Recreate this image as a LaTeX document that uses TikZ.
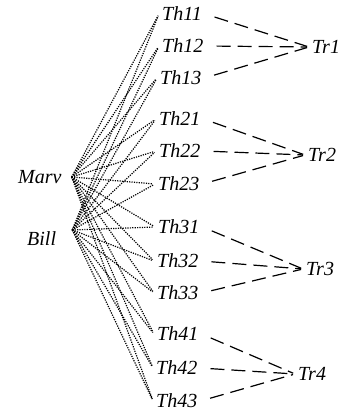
\documentclass[tikz,border=0pt]{standalone}
\usepackage{fontspec}
\setmainfont{Liberation Serif}
\begin{document}
\begin{tikzpicture}[x=1pt, y=-1pt,
  lbl/.style={font=\fontsize{20}{24}\selectfont\itshape, inner sep=3pt, anchor=west},
  link/.style={line width=1.2pt, dash pattern=on 1.2pt off 1.2pt, shorten >=2pt},
  tie/.style={line width=1.2pt, dash pattern=on 14pt off 7pt, shorten <=10pt, shorten >=2pt}]
\useasboundingbox (0,0) rectangle (350,417);

% people
\node[lbl] (Marv) at (15,177) {Marv};
\node[lbl] (Bill) at (24,239) {Bill};
\coordinate (m) at ([xshift=7pt]Marv.east);
\coordinate (b) at ([shift={(13pt,9pt)}]Bill.east);

% theses
\node[lbl] (Th11) at (159,14)  {Th11};
\node[lbl] (Th12) at (159,46)  {Th12};
\node[lbl] (Th13) at (157,78)  {Th13};
\node[lbl] (Th21) at (156,119) {Th21};
\node[lbl] (Th22) at (156,151) {Th22};
\node[lbl] (Th23) at (155,184) {Th23};
\node[lbl] (Th31) at (155,227) {Th31};
\node[lbl] (Th32) at (154,261) {Th32};
\node[lbl] (Th33) at (154,293) {Th33};
\node[lbl] (Th41) at (154,334) {Th41};
\node[lbl] (Th42) at (153,368) {Th42};
\node[lbl] (Th43) at (153,401) {Th43};

% topics
\node[lbl] (Tr1) at (309,47)  {Tr1};
\node[lbl] (Tr2) at (305,155) {Tr2};
\node[lbl] (Tr3) at (303,269) {Tr3};
\node[lbl] (Tr4) at (295,374) {Tr4};

% dotted links from both people to every thesis
\foreach \t in {Th11,Th12,Th13,Th21,Th22,Th23,Th31,Th32,Th33,Th41,Th42,Th43}{
  \draw[link] (m) -- (\t.west);
  \draw[link] (b) -- (\t.west);
}

% dashed ties from theses to topics
\foreach \g in {1,2,3,4}{
  \foreach \k in {1,2,3}{
    \draw[tie] (Th\g\k.east) -- (Tr\g.west);
  }
}
\end{tikzpicture}
\end{document}
